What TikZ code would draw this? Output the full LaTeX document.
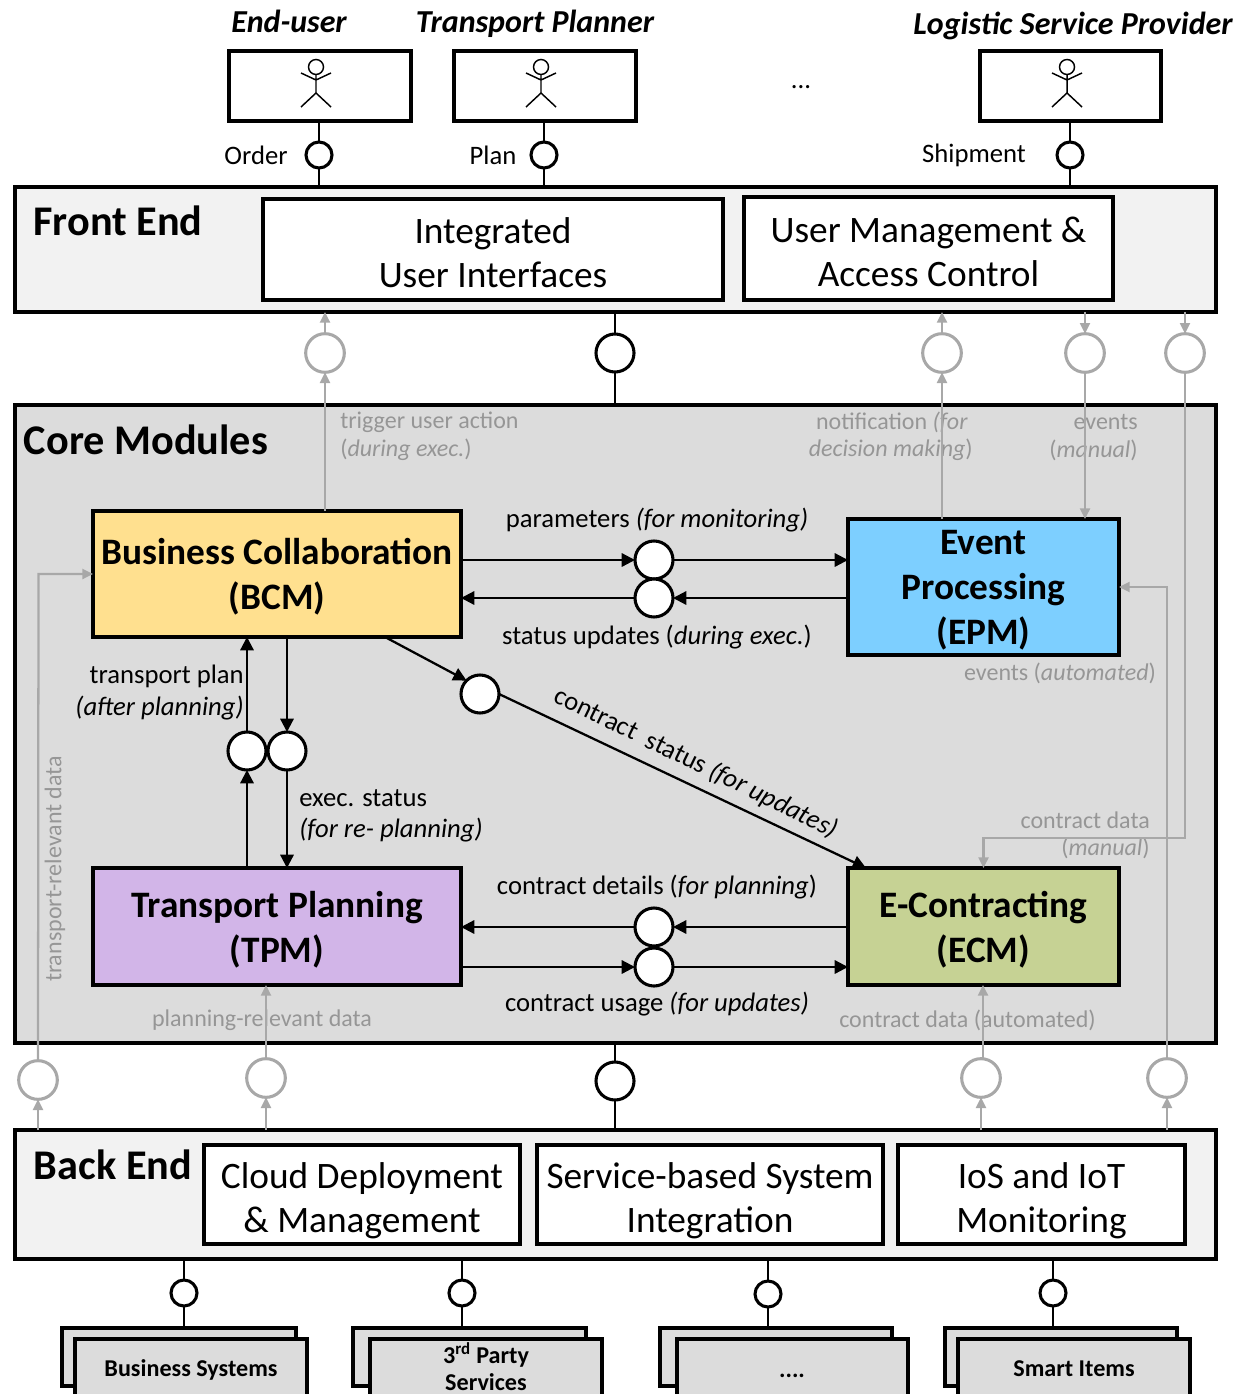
\documentclass[tikz,border=0pt]{standalone}
\usepackage{fontspec}
\setmainfont{Carlito}
\usetikzlibrary{arrows.meta,calc}
\definecolor{gline}{HTML}{A8A8A8}
\definecolor{gtext}{HTML}{969696}
\definecolor{corefill}{HTML}{DCDCDC}
\definecolor{endfill}{HTML}{F2F2F2}
\definecolor{bcmfill}{HTML}{FFE08F}
\definecolor{epmfill}{HTML}{7DCFFF}
\definecolor{tpmfill}{HTML}{D2B5E8}
\definecolor{ecmfill}{HTML}{C6D294}
\newcommand{\Fs}[1]{\fontsize{#1}{#1}\selectfont}
\newcommand{\Tp}{\rule{0pt}{24pt}}
% \Bx{name}{x1}{y1}{x2}{y2}{style}{text}
\newcommand{\Bx}[7]{\node[#6,minimum width={((#4)-(#2))*0.75pt},minimum height={((#5)-(#3))*0.75pt}] (#1) at ({((#2)+(#4))/2},{((#3)+(#5))/2}) {#7};}
\newcommand{\Actor}[2]{%
  \draw[line width=1.1pt] (#1,#2) circle[radius=7.5];
  \draw[line width=1.1pt] (#1,#2+7.5) -- (#1,#2+26) (#1-15,#2+6) -- (#1,#2+13) -- (#1+15,#2+6) (#1-15,#2+40) -- (#1,#2+26) -- (#1+15,#2+40);}
\tikzset{
  bx/.style={draw=black,line width=2.3pt,inner sep=0pt,outer sep=0pt,align=center},
  layer/.style={bx,fill=endfill},
  corebox/.style={bx,fill=corefill},
  inner/.style={bx,fill=white,font=\Fs{28},text depth=0pt},
  actorbox/.style={bx,fill=white},
  module/.style={bx,font=\bfseries\Fs{28},text depth=0pt},
  stackbox/.style={bx,fill=corefill},
  dot/.style={circle,draw=black,fill=white,inner sep=0pt,outer sep=0pt,line width=2.3pt},
  bigdot/.style={dot,minimum size=28.5pt},
  smalldot/.style={dot,minimum size=19.5pt},
  greydot/.style={dot,draw=gline,minimum size=29pt,fill=white},
  title/.style={font=\bfseries\Fs{31.7},inner sep=0pt,anchor=center},
  role/.style={font=\bfseries\itshape\Fs{24},inner sep=0pt,anchor=base},
  lab/.style={font=\Fs{20},inner sep=0pt,align=center},
  glab/.style={font=\Fs{18},text=gtext,inner sep=0pt},
  stext/.style={font=\bfseries\Fs{18.1},inner sep=0pt},
  thinline/.style={draw=black,line width=1.2pt},
  barrow/.style={draw=black,line width=1.7pt,-{Triangle[length=10pt,width=10pt]}},
  garrow/.style={draw=gline,line width=1.7pt,-{Triangle[length=8pt,width=7.5pt]}},
}
\begin{document}
\begin{tikzpicture}[x=0.75pt,y=-0.75pt]
\clip (0,0) rectangle (1249,1394);
% layers
\Bx{fe}{15}{187}{1216}{312}{layer}{}
\Bx{core}{15}{405}{1216}{1043}{corebox}{}
\Bx{be}{15}{1130}{1216}{1259}{layer}{}
\Bx{ui}{263}{199}{723}{300}{inner}{\Tp Integrated\\[5pt]User Interfaces}
\Bx{um}{744}{197}{1113}{300}{inner}{\Tp User Management \&\\[5pt]Access Control}
\Bx{cd}{204}{1145}{520}{1244}{inner}{\Tp Cloud Deployment\\[5pt]\&\ Management}
\Bx{sb}{537}{1145}{883}{1244}{inner}{\Tp Service-based System\\[5pt]Integration}
\Bx{io}{898}{1145}{1185}{1244}{inner}{\Tp IoS and IoT\\[5pt]Monitoring}
\node[title] (tfe) at (118,221) {Front End};
\node[title] (tcore) at (146,440) {Core Modules};
\node[title] (tbe) at (113,1165) {Back End};
% actors
\Bx{a1}{229}{51}{411}{121}{actorbox}{}
\Bx{a2}{454}{51}{636}{121}{actorbox}{}
\Bx{a3}{980}{51}{1161}{121}{actorbox}{}
\Actor{316}{67}
\Actor{541}{67}
\Actor{1067}{67}
\node[role] (r1) at (289,33) {End-user};
\node[role] (r2) at (535,33) {Transport Planner};
\node[role] (r3) at (1073,35) {Logistic Service Provider};
\node[lab] (tdots) at (801,87) {...};
\node[smalldot] (l1) at (319,155) {};
\node[smalldot] (l2) at (544,155) {};
\node[smalldot] (l3) at (1070,155) {};
\node[lab] (torder) at (256,155) {Order};
\node[lab] (tplan) at (493,155) {Plan};
\node[lab] (tship) at (974,155) {Shipment};
\foreach \n in {l1,l2,l3}{
  \draw[thinline] (\n.north) -- (\n.north |- a1.south);
  \draw[thinline] (\n.south) -- (\n.south |- fe.north);
}
% modules
\Bx{bcm}{93}{511}{461}{637}{module,fill=bcmfill}{Business Collaboration\\[5.75pt](BCM)}
\Bx{epm}{848}{519}{1119}{655}{module,fill=epmfill}{Event\\[5.75pt]Processing\\[5.75pt](EPM)}
\Bx{tpm}{93}{868}{461}{985}{module,fill=tpmfill}{Transport Planning\\[5.75pt](TPM)}
\Bx{ecm}{848}{868}{1119}{985}{module,fill=ecmfill}{E-Contracting\\[5.75pt](ECM)}
% central black sockets
\node[bigdot] (ctop) at (615,353) {};
\node[bigdot] (cbot) at (615,1081) {};
\draw[thinline] (ctop.north) -- (ctop.north |- fe.south);
\draw[thinline] (ctop.south) -- (ctop.south |- core.north);
\draw[thinline] (cbot.north) -- (cbot.north |- core.south);
\draw[thinline] (cbot.south) -- (cbot.south |- be.north);
% grey sockets
\node[greydot] (g1) at (325,353) {};
\node[greydot] (g2) at (942,353) {};
\node[greydot] (g3) at (1085,353) {};
\node[greydot] (g4) at (1185,353) {};
\node[greydot] (g5) at (38,1080) {};
\node[greydot] (g6) at (266,1078) {};
\node[greydot] (g7) at (981,1078) {};
\node[greydot] (g8) at (1167,1078) {};
\coordinate (b4) at (1185,838);
\coordinate (b5) at (38.5,574);
\coordinate (b8) at (1167,587);
% grey labels
\node[glab,anchor=west] (t1a) at (340,422) {trigger user action};
\node[glab,anchor=west] (t1b) at (340,450) {(\textit{during exec.})};
\node[glab,anchor=east] (t2a) at (968,422) {notification \textit{(for}};
\node[glab,anchor=east] (t2b) at (973,450) {\textit{decision making})};
\node[glab,anchor=east] (t3a) at (1138,422) {events};
\node[glab,anchor=east] (t3b) at (1138,450) {(\textit{manual})};
\node[glab] (t8) at (1060,673) {events (\textit{automated})};
\node[glab,anchor=east] (t4a) at (1150,820) {contract data};
\node[glab,anchor=east] (t4b) at (1150,848) {(\textit{manual})};
\node[glab] (t6) at (262,1020.5) {planning-relevant data};
\node[glab] (t7) at (967.5,1020) {contract data (automated)};
\node[glab,rotate=90] (t5) at (55,869) {transport-relevant data};
% grey connectors
\draw[garrow] (g1.north) -- (g1.north |- fe.south);
\draw[garrow] (g1.south |- bcm.north) -- (g1.south);
\draw[garrow] (g2.north) -- (g2.north |- fe.south);
\draw[garrow] (g2.south |- epm.north) -- (g2.south);
\draw[garrow] (g3.north |- fe.south) -- (g3.north);
\draw[garrow] (g3.south) -- (g3.south |- epm.north);
\draw[garrow] (g4.north |- fe.south) -- (g4.north);
\draw[garrow] (g4.south) -- (b4) -| (ecm.north);
\draw[garrow] (g5.south |- be.north) -- (g5.south);
\draw[garrow] (g5.north) -- (b5) -- (b5 -| bcm.west);
\draw[garrow] (g6.south |- be.north) -- (g6.south);
\draw[garrow] (g6.north) -- (g6.north |- tpm.south);
\draw[garrow] (g7.south |- be.north) -- (g7.south);
\draw[garrow] ($(g7.north)+(2,0)$) -- ($(g7.north |- ecm.south)+(2,0)$);
\draw[garrow] (g8.south |- be.north) -- (g8.south);
\draw[garrow] (g8.north) -- (b8) -- (b8 -| epm.east);
% black sockets between modules
\node[bigdot] (p1) at (654,560) {};
\node[bigdot] (p2) at (654,598) {};
\node[bigdot] (p3) at (654,927) {};
\node[bigdot] (p4) at (654,967) {};
\node[bigdot] (p5) at (247,751) {};
\node[bigdot] (p6) at (287,751) {};
\node[bigdot] (p7) at (480,694) {};
\draw[barrow] (p1.west -| bcm.east) -- (p1.west);
\draw[barrow] (p1.east) -- (p1.east -| epm.west);
\draw[barrow] (p2.east -| epm.west) -- (p2.east);
\draw[barrow] (p2.west) -- (p2.west -| bcm.east);
\draw[barrow] (p3.east -| ecm.west) -- (p3.east);
\draw[barrow] (p3.west) -- (p3.west -| tpm.east);
\draw[barrow] (p4.west -| tpm.east) -- (p4.west);
\draw[barrow] (p4.east) -- (p4.east -| ecm.west);
\draw[barrow] (p5.south |- tpm.north) -- (p5.south);
\draw[barrow] (p5.north) -- (p5.north |- bcm.south);
\draw[barrow] (p6.north |- bcm.south) -- (p6.north);
\draw[barrow] (p6.south) -- (p6.south |- tpm.north);
\coordinate (s7) at (385,637);
\coordinate (e7) at (866,868);
\draw[barrow] (s7) -- (p7.north west);
\draw[barrow] (p7.east) -- (e7);
% black labels
\node[lab] (m1) at (657,520) {parameters \textit{(for monitoring)}};
\node[lab] (m2) at (657,637) {status updates (\textit{during exec.})};
\node[lab] (m3) at (657,887) {contract details (\textit{for planning})};
\node[lab] (m4) at (657,1004) {contract usage \textit{(for updates)}};
\node[lab,anchor=east] (m5a) at (244,676) {transport plan};
\node[lab,anchor=east] (m5b) at (244,708) {\textit{(after planning)}};
\node[lab,anchor=west] (m6a) at (299,798) {exec. status};
\node[lab,anchor=west] (m6b) at (299,830) {\textit{(for re- planning)}};
\node[lab,rotate=-26] (m7) at (696,763) {contract \ status \textit{(for updates)}};
% back-end stacks
\Bx{s1b}{62}{1328}{296}{1386}{bx,fill=corefill}{}
\Bx{s1}{75}{1339}{307}{1420}{stackbox}{}
\Bx{s2b}{353}{1328}{586}{1386}{bx,fill=corefill}{}
\Bx{s2}{370}{1339}{602}{1420}{stackbox}{}
\Bx{s3b}{660}{1328}{892}{1386}{bx,fill=corefill}{}
\Bx{s3}{677}{1339}{908}{1420}{stackbox}{}
\Bx{s4b}{945}{1328}{1177}{1386}{bx,fill=corefill}{}
\Bx{s4}{958}{1339}{1190}{1420}{stackbox}{}
\node[stext] (q1) at (191,1369.5) {Business Systems};
\node[stext] (q2a) at (486,1355) {3\textsuperscript{rd} Party};
\node[stext] (q2b) at (486,1382) {Services};
\node[stext] (q3) at (792,1376) {....};
\node[stext] (q4) at (1074,1369) {Smart Items};
\node[smalldot] (d1) at (184,1293) {};
\node[smalldot] (d2) at (462,1293) {};
\node[smalldot] (d3) at (768,1294) {};
\node[smalldot] (d4) at (1053,1293) {};
\draw[thinline] (d1.north) -- (d1.north |- be.south);
\draw[thinline] (d2.north) -- (d2.north |- be.south);
\draw[thinline] (d3.north) -- (d3.north |- be.south);
\draw[thinline] (d4.north) -- (d4.north |- be.south);
\draw[thinline] (d1.south) -- (d1.south |- s1b.north);
\draw[thinline] (d2.south) -- (d2.south |- s2b.north);
\draw[thinline] (d3.south) -- (d3.south |- s3b.north);
\draw[thinline] (d4.south) -- (d4.south |- s4b.north);
\end{tikzpicture}
\end{document}
